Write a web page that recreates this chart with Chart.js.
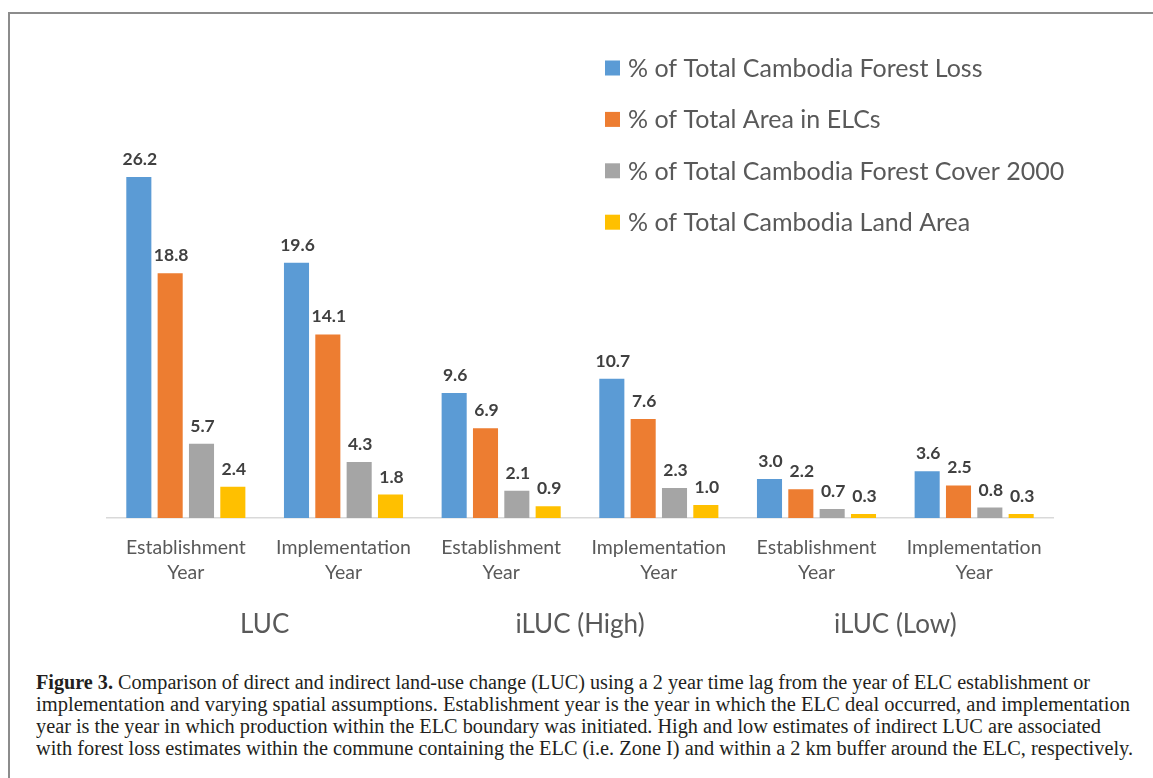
<!DOCTYPE html>
<html>
<head>
<meta charset="utf-8">
<script src="https://cdn.jsdelivr.net/npm/chart.js@4.4.1/dist/chart.umd.min.js"></script>
<style>
  html, body { margin: 0; padding: 0; background: #fff; }
  body { width: 1153px; height: 778px; overflow: hidden; position: relative; }
  #frame {
    position: absolute; left: 8px; top: 12px; width: 1200px; height: 820px;
    border-left: 2px solid #8c8c8c; border-top: 2px solid #8c8c8c;
  }
  #wrap { position: absolute; left: 0; top: 0; width: 1153px; height: 660px; }
  .cap {
    position: absolute; left: 36px; white-space: nowrap;
    font-family: "Liberation Serif", serif; font-size: 20px; line-height: 22px;
    color: #231f20; transform-origin: 0 0;
  }
  .cap b { font-weight: bold; }
</style>
</head>
<body>
<div id="frame"></div>
<div id="wrap"><canvas id="c" width="1153" height="660"></canvas></div>
<div id="caption"></div>
<script>
// Categories (two-line tick labels) and the three scenario groups beneath them
const categories = [
  ["Establishment", "Year"], ["Implementation", "Year"],
  ["Establishment", "Year"], ["Implementation", "Year"],
  ["Establishment", "Year"], ["Implementation", "Year"]
];
const groupLabels = ["LUC", "iLUC (High)", "iLUC (Low)"];

// Series names and values (%)
const seriesNames = [
  "% of Total Cambodia Forest Loss",
  "% of Total Area in ELCs",
  "% of Total Cambodia Forest Cover 2000",
  "% of Total Cambodia Land Area"
];
const forestLoss   = [26.2, 19.6, 9.6, 10.7, 3.0, 3.6];
const areaInELCs   = [18.8, 14.1, 6.9, 7.6, 2.2, 2.5];
const forestCover  = [5.7, 4.3, 2.1, 2.3, 0.7, 0.8];
const landArea     = [2.4, 1.8, 0.9, 1.0, 0.3, 0.3];
const seriesColors = ["#5B9BD5", "#ED7D31", "#A5A5A5", "#FFC000"];

// Caption text, one entry per printed line
const captionTitle = "Figure 3.";
const captionLines = [
  " Comparison of direct and indirect land-use change (LUC) using a 2 year time lag from the year of ELC establishment or",
  "implementation and varying spatial assumptions. Establishment year is the year in which the ELC deal occurred, and implementation",
  "year is the year in which production within the ELC boundary was initiated. High and low estimates of indirect LUC are associated",
  "with forest loss estimates within the commune containing the ELC (i.e. Zone I) and within a 2 km buffer around the ELC, respectively."
];
const captionWidths = [1054, 1094, 1065, 1097];

const seriesValues = [forestLoss, areaInELCs, forestCover, landArea];

// Legend stacked at the upper right of the plot
const sideLegend = {
  id: 'sideLegend',
  afterDraw(chart) {
    const ctx = chart.ctx;
    ctx.save();
    ctx.font = '25px Lato';
    ctx.textBaseline = 'middle';
    ctx.textAlign = 'left';
    chart.data.datasets.forEach((ds, i) => {
      const y = 68 + i * 51.4;
      ctx.fillStyle = ds.backgroundColor;
      ctx.fillRect(605, y - 7.5, 15, 15);
      ctx.fillStyle = '#595959';
      ctx.fillText(ds.label, 628, y + 1);
    });
    ctx.restore();
  }
};

// Value printed above each bar
const barValues = {
  id: 'barValues',
  afterDatasetsDraw(chart) {
    const ctx = chart.ctx;
    ctx.save();
    ctx.font = 'bold 17.5px Lato';
    ctx.fillStyle = '#404040';
    ctx.textAlign = 'center';
    ctx.textBaseline = 'alphabetic';
    chart.data.datasets.forEach((ds, i) => {
      chart.getDatasetMeta(i).data.forEach((bar, j) => {
        ctx.fillText(ds.data[j].toFixed(1), bar.x + 1, bar.y - 12);
      });
    });
    ctx.restore();
  }
};

function buildCaption() {
  const holder = document.getElementById('caption');
  captionLines.forEach((txt, i) => {
    const d = document.createElement('div');
    d.className = 'cap';
    if (i === 0) {
      const b = document.createElement('b');
      b.textContent = captionTitle;
      d.appendChild(b);
    }
    d.appendChild(document.createTextNode(txt));
    d.style.top = (671 + i * 22) + 'px';
    holder.appendChild(d);
    const w = d.getBoundingClientRect().width;
    d.style.transform = 'scaleX(' + (captionWidths[i] / w) + ')';
  });
}

function buildChart() {
  new Chart(document.getElementById('c'), {
    type: 'bar',
    data: {
      labels: categories,
      datasets: seriesNames.map((name, i) => ({
        label: name,
        data: seriesValues[i],
        backgroundColor: seriesColors[i],
        borderWidth: 0,
        barPercentage: 0.8,
        categoryPercentage: 0.795
      }))
    },
    options: {
      responsive: false,
      animation: false,
      devicePixelRatio: 1,
      layout: { padding: { left: 107, right: 100, top: 127.5, bottom: 22 } },
      plugins: { legend: { display: false }, tooltip: { enabled: false } },
      scales: {
        x: {
          type: 'category',
          offset: true,
          weight: 0,
          grid: { display: false, drawTicks: false },
          border: { display: true, color: '#d9d9d9', width: 1.5 },
          ticks: {
            color: '#595959',
            font: { family: 'Lato', size: 19.5, lineHeight: 1.28 },
            padding: 17, maxRotation: 0, autoSkip: false
          },
          afterFit(s) { s.height = 70; }
        },
        x2: {
          type: 'category',
          labels: groupLabels,
          offset: true,
          position: 'bottom',
          weight: 1,
          grid: { display: false, drawTicks: false },
          border: { display: false },
          ticks: {
            color: '#595959',
            font: { family: 'Lato', size: 26 },
            padding: 21, maxRotation: 0, autoSkip: false
          },
          afterFit(s) { s.height = 50; }
        },
        y: { display: false, min: 0, max: 30 }
      }
    },
    plugins: [sideLegend, barValues]
  });
}

Promise.all([
  document.fonts.load('18px Lato'),
  document.fonts.load('bold 17px Lato'),
  document.fonts.load('20px "Liberation Serif"'),
  document.fonts.load('bold 20px "Liberation Serif"')
]).catch(() => {}).then(() => { buildCaption(); buildChart(); });
</script>
</body>
</html>
